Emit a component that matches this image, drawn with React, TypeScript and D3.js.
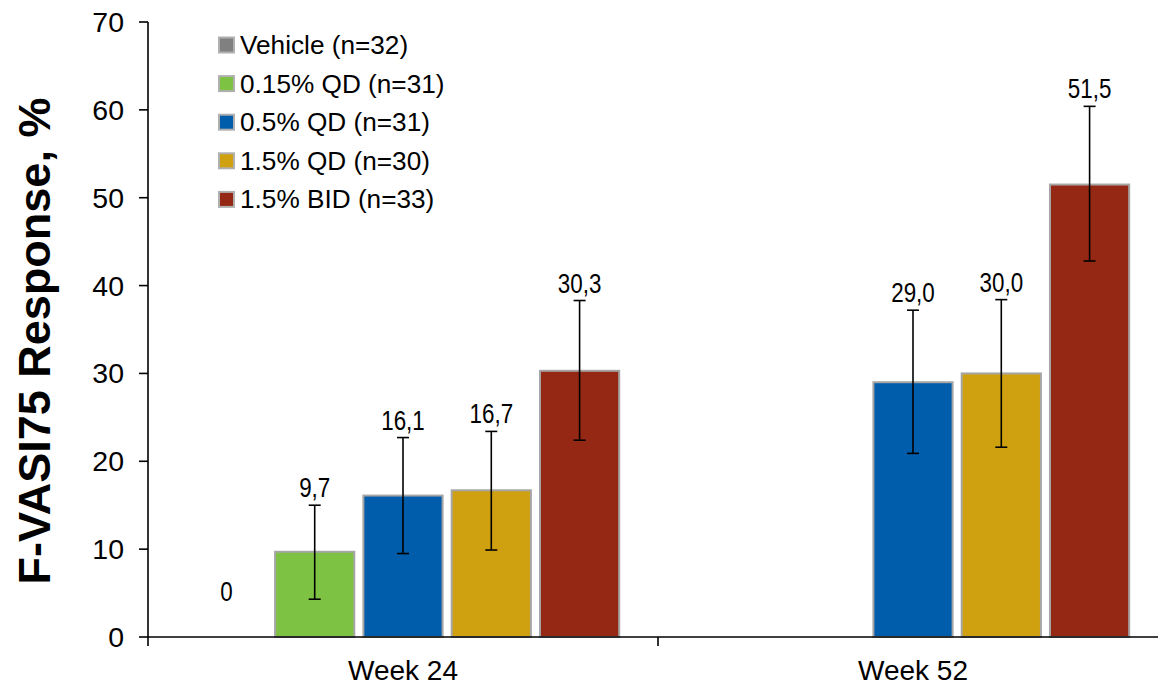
import React from "react";
import * as d3 from "d3";

// Timepoints on the x axis
const timepoints = ["Week 24", "Week 52"];

// Treatment arms (legend order = bar order within a group)
const arms = [
  "Vehicle (n=32)",
  "0.15% QD (n=31)",
  "0.5% QD (n=31)",
  "1.5% QD (n=30)",
  "1.5% BID (n=33)",
];
const armColors = ["#808080", "#7dc242", "#005dab", "#cfa00f", "#952814"];

// F-VASI75 response (%) per arm, one array per timepoint; null = not reported
const week24Values: (number | null)[] = [0, 9.7, 16.1, 16.7, 30.3];
const week52Values: (number | null)[] = [null, null, 29.0, 30.0, 51.5];

// 95% CI bounds per arm
const week24Lower: (number | null)[] = [null, 4.3, 9.5, 9.9, 22.4];
const week24Upper: (number | null)[] = [null, 15.0, 22.7, 23.4, 38.3];
const week52Lower: (number | null)[] = [null, null, 20.9, 21.6, 42.8];
const week52Upper: (number | null)[] = [null, null, 37.2, 38.4, 60.4];

const yTicks = [0, 10, 20, 30, 40, 50, 60, 70];

const valuesByTime = [week24Values, week52Values];
const lowerByTime = [week24Lower, week52Lower];
const upperByTime = [week24Upper, week52Upper];

const W = 1158;
const H = 689;
const left = 148;
const top = 22;
const bottom = 637;

const fmt = (v: number) => (v === 0 ? "0" : d3.format(".1f")(v).replace(".", ","));

export default function App() {
  const x0 = d3.scaleBand<string>().domain(timepoints).range([left, 1168]).padding(0);
  const x1 = d3
    .scaleBand<string>()
    .domain(arms)
    .range([0, x0.bandwidth()])
    .paddingInner(0.08)
    .paddingOuter(0.428);
  const y = d3.scaleLinear().domain([0, 70]).range([bottom, top]);

  const font = "'Liberation Sans', Arial, sans-serif";

  return (
    <svg
      width={W}
      height={H}
      style={{ position: "absolute", left: 0, top: 0, background: "#fff" }}
      fontFamily={font}
    >
      {/* bars, error bars and value labels */}
      {timepoints.map((t, ti) => (
        <g key={t} transform={`translate(${x0(t)},0)`}>
          {arms.map((a, ai) => {
            const v = valuesByTime[ti][ai];
            if (v === null) return null;
            const bx = x1(a)!;
            const bw = x1.bandwidth();
            const cx = bx + bw / 2;
            const lo = lowerByTime[ti][ai];
            const hi = upperByTime[ti][ai];
            const labelY = hi !== null ? y(hi) - 8 : y(v) - 36;
            return (
              <g key={a}>
                {v > 0 && (
                  <rect
                    x={bx + 1}
                    y={y(v)}
                    width={bw - 2}
                    height={y(0) - y(v)}
                    fill={armColors[ai]}
                    stroke="#a6a6a6"
                    strokeWidth={2}
                  />
                )}
                {lo !== null && hi !== null && (
                  <g stroke="#000" strokeWidth={1.6}>
                    <line x1={cx} x2={cx} y1={y(lo)} y2={y(hi)} />
                    <line x1={cx - 6} x2={cx + 6} y1={y(lo)} y2={y(lo)} />
                    <line x1={cx - 6} x2={cx + 6} y1={y(hi)} y2={y(hi)} />
                  </g>
                )}
                {/* condensed value label */}
                <text
                  transform={`translate(${cx},${labelY}) scale(0.8,1)`}
                  textAnchor="middle"
                  fontSize={28}
                  fill="#000"
                >
                  {fmt(v)}
                </text>
              </g>
            );
          })}
        </g>
      ))}

      {/* y axis */}
      <line x1={left} x2={left} y1={top} y2={bottom} stroke="#000" strokeWidth={1.6} />
      {yTicks.map((t) => (
        <g key={t}>
          <line x1={left - 9} x2={left} y1={y(t)} y2={y(t)} stroke="#000" strokeWidth={1.6} />
          <text x={124} y={y(t) + 10} textAnchor="end" fontSize={28.5} fill="#000">
            {t}
          </text>
        </g>
      ))}

      {/* x axis */}
      <line x1={left} x2={W} y1={bottom} y2={bottom} stroke="#000" strokeWidth={1.6} />
      {[left, ...timepoints.slice(1).map((t) => x0(t)!)].map((tx) => (
        <line key={tx} x1={tx} x2={tx} y1={bottom} y2={bottom + 9} stroke="#000" strokeWidth={1.6} />
      ))}
      {timepoints.map((t) => (
        <text
          key={t}
          x={x0(t)! + x0.bandwidth() / 2}
          y={680}
          textAnchor="middle"
          fontSize={28}
          fill="#000"
        >
          {t}
        </text>
      ))}

      {/* y axis title */}
      <text
        transform="translate(50,341) rotate(-90)"
        textAnchor="middle"
        fontSize={45}
        fontWeight="bold"
        fill="#000"
      >
        F-VASI75 Response, %
      </text>

      {/* legend */}
      {arms.map((a, i) => (
        <g key={a} transform={`translate(219,${45 + i * 38.6})`}>
          <rect x={0} y={-7.5} width={15} height={15} fill={armColors[i]} stroke="#b0b0b0" strokeWidth={2} />
          <text x={21} y={9} fontSize={26.2} fill="#000">
            {a}
          </text>
        </g>
      ))}
    </svg>
  );
}
